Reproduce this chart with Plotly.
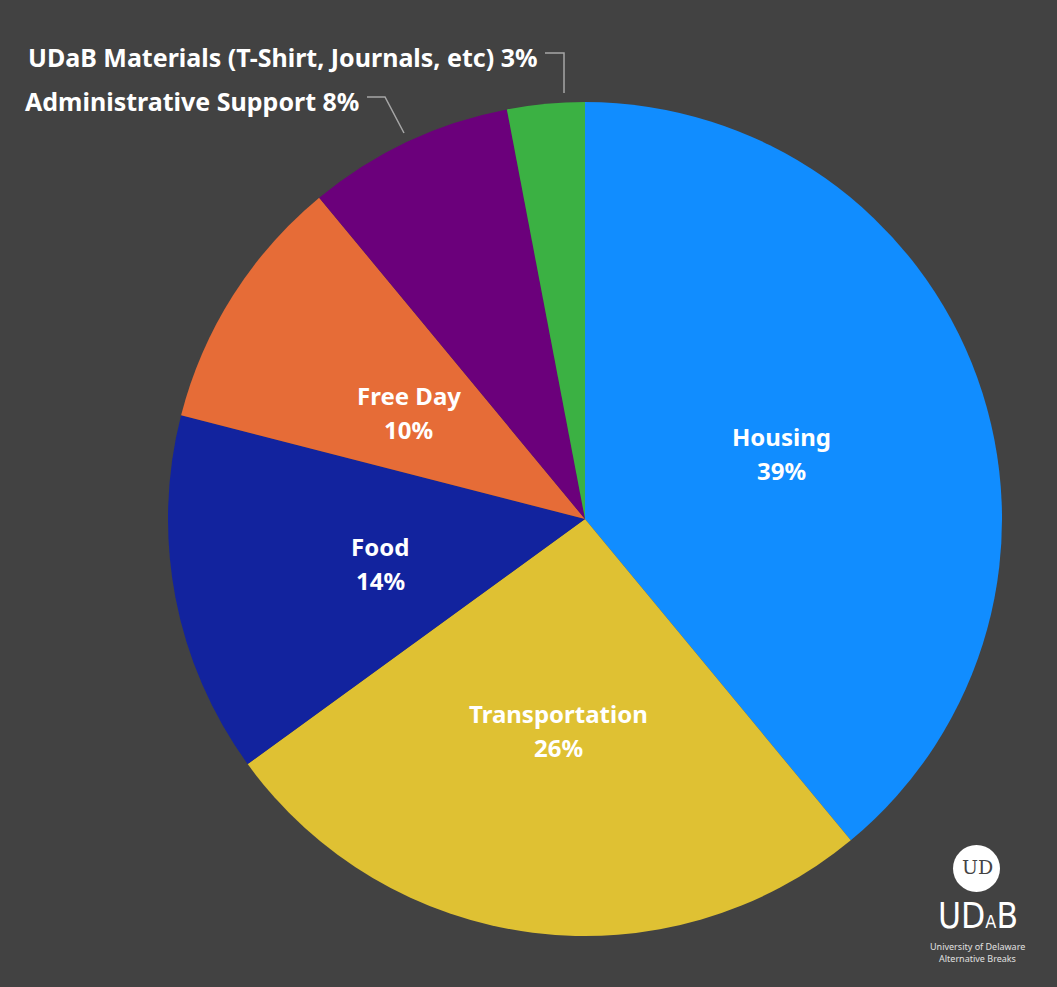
import math
import plotly.graph_objects as go

categories = ["Housing", "Transportation", "Food", "Free Day",
              "Administrative Support", "UDaB Materials (T-Shirt, Journals, etc)"]
values = [39, 26, 14, 10, 8, 3]
colors = ["#118DFF", "#DFC133", "#12239E", "#E66C37", "#6B007B", "#3BB143"]
inside_labels = [True, True, True, True, False, False]

W, H = 1057, 987
CX, CY, R = 585, 519, 417  # pie centre / radius in pixels

fig = go.Figure(go.Pie(
    labels=categories,
    values=values,
    marker=dict(colors=colors, line=dict(width=0)),
    sort=False,
    direction="clockwise",
    rotation=0,
    textinfo="none",
    hoverinfo="label+percent",
    showlegend=False,
    domain=dict(x=[(CX - R) / W, (CX + R) / W], y=[1 - (CY + R) / H, 1 - (CY - R) / H]),
))

total = sum(values)
annotations = []
shapes = []
cum = 0
FONT = "Noto Sans, Open Sans, sans-serif"
inside_font = dict(family=FONT, size=24, color="white")
outside_font = dict(family=FONT, size=25, color="white")
for cat, v, inside in zip(categories, values, inside_labels):
    mid = (cum + v / 2) / total * 2 * math.pi
    cum += v
    pct = f"{round(v / total * 100)}%"
    if inside:
        px = CX + 0.5 * R * math.sin(mid)
        py = CY - 0.5 * R * math.cos(mid) + 5
        for txt, dy in ((cat, -17), (pct, 17)):
            annotations.append(dict(
                x=px / W, y=1 - (py + dy) / H, xref="paper", yref="paper",
                text=f"<b>{txt}</b>", showarrow=False,
                font=inside_font, align="center", xanchor="center", yanchor="middle",
            ))

# outside labels with leader lines (Administrative Support, UDaB Materials)
annotations.append(dict(x=361 / W, y=1 - 101 / H, xref="paper", yref="paper",
                        text=f"<b>{categories[4]} {values[4]}%</b>", showarrow=False,
                        font=outside_font, xanchor="right", yanchor="middle"))
annotations.append(dict(x=539 / W, y=1 - 57 / H, xref="paper", yref="paper",
                        text=f"<b>{categories[5]} {values[5]}%</b>", showarrow=False,
                        font=outside_font, xanchor="right", yanchor="middle"))

def pth(pts):
    return "M " + " L ".join(f"{x / W:.5f},{1 - y / H:.5f}" for x, y in pts)

line_style = dict(color="#A6A6A6", width=1.5)
shapes.append(dict(type="path", xref="paper", yref="paper",
                   path=pth([(367, 97), (385, 97), (404, 133)]), line=line_style))
shapes.append(dict(type="path", xref="paper", yref="paper",
                   path=pth([(545, 53), (564, 53), (564, 93)]), line=line_style))

# logo
shapes.append(dict(type="circle", xref="paper", yref="paper",
                   x0=953 / W, x1=1000 / W, y0=1 - 892 / H, y1=1 - 845 / H,
                   fillcolor="white", line=dict(width=0)))
annotations += [
    dict(x=977 / W, y=1 - 867 / H, xref="paper", yref="paper", text="UD",
         showarrow=False,
         font=dict(family="DejaVu Serif, serif", size=19, color="#444444"), xanchor="center", yanchor="middle"),
    dict(x=978 / W, y=1 - 916 / H, xref="paper", yref="paper",
         text="UD<span style='font-size:18px'>A</span>B", showarrow=False,
         font=dict(family="Liberation Sans Narrow, DejaVu Sans Condensed, sans-serif", size=35, color="white"),
         xanchor="center", yanchor="middle"),
    dict(x=977 / W, y=1 - 946 / H, xref="paper", yref="paper", text="University of Delaware",
         showarrow=False, font=dict(family="Noto Sans, sans-serif", size=9, color="#E0E0E0"),
         xanchor="center", yanchor="middle"),
    dict(x=977 / W, y=1 - 958 / H, xref="paper", yref="paper", text="Alternative Breaks",
         showarrow=False, font=dict(family="Noto Sans, sans-serif", size=9, color="#E0E0E0"),
         xanchor="center", yanchor="middle"),
]

fig.update_layout(
    width=W, height=H,
    margin=dict(l=0, r=0, t=0, b=0),
    paper_bgcolor="#424242",
    plot_bgcolor="#424242",
    annotations=annotations,
    shapes=shapes,
)

fig.write_html("out.html",
               config={"displayModeBar": False},
               post_script="document.body.style.margin='0';document.body.style.background='#424242';")
